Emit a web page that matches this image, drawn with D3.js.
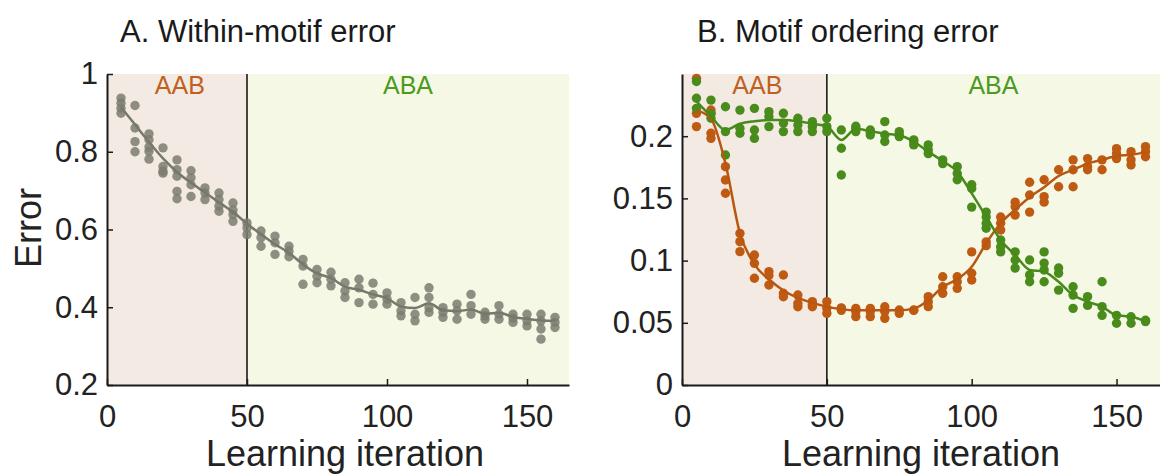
<!DOCTYPE html>
<html>
<head>
<meta charset="utf-8">
<script src="https://cdn.jsdelivr.net/npm/d3@7"></script>
<style>
  body { margin: 0; background: #fff; }
  svg { display: block; font-family: "Liberation Sans", Arial, sans-serif; }
</style>
</head>
<body>
<svg id="chart" width="1160" height="475"></svg>
<script>
// learning iterations where each batch of runs was measured
const iterations = [5, 10, 15, 20, 25, 30, 35, 40, 45, 50, 55, 60, 65, 70, 75, 80,
    85, 90, 95, 100, 105, 110, 115, 120, 125, 130, 135, 140, 145, 150, 155, 160];

// A. within-motif error, one list of runs per iteration
const withinPoints = [
    [0.938, 0.925, 0.912, 0.899], [0.919, 0.861, 0.826, 0.80], [0.846, 0.831, 0.812, 0.801, 0.781],
    [0.81, 0.762, 0.745, 0.75], [0.779, 0.754, 0.737, 0.698, 0.679], [0.751, 0.733, 0.715, 0.685],
    [0.707, 0.694, 0.677], [0.694, 0.677, 0.66, 0.647], [0.668, 0.638, 0.621, 0.65],
    [0.617, 0.604, 0.587], [0.596, 0.579, 0.557], [0.583, 0.566, 0.536],
    [0.557, 0.544, 0.53], [0.523, 0.506, 0.459], [0.497, 0.48, 0.463],
    [0.49, 0.472, 0.455], [0.463, 0.442, 0.425], [0.472, 0.45, 0.412],
    [0.462, 0.433, 0.408], [0.437, 0.421, 0.408], [0.412, 0.391, 0.378],
    [0.425, 0.382, 0.365], [0.45, 0.425, 0.399, 0.387], [0.399, 0.387, 0.374],
    [0.408, 0.391, 0.369], [0.433, 0.404, 0.382], [0.387, 0.369, 0.378],
    [0.404, 0.382, 0.369], [0.382, 0.361, 0.372], [0.382, 0.365, 0.352],
    [0.382, 0.365, 0.344, 0.318], [0.374, 0.361, 0.348]
];
const withinFit = [0.915, 0.87, 0.825, 0.783, 0.748, 0.72, 0.695, 0.67, 0.645, 0.615, 0.588,
    0.562, 0.54, 0.51, 0.487, 0.475, 0.453, 0.445, 0.433, 0.423, 0.402, 0.398, 0.41, 0.392,
    0.39, 0.394, 0.383, 0.386, 0.375, 0.37, 0.366, 0.365];

// B. motif ordering error, AAB (orange) and ABA (green)
const aabPoints = [
    [0.2465, 0.2184, 0.2077], [0.2211, 0.2184, 0.2024, 0.1983], [0.1755, 0.1648, 0.1541],
    [0.1219, 0.1152, 0.1072], [0.1045, 0.0978, 0.0858], [0.0911, 0.0804, 0.088],
    [0.0884, 0.0737, 0.071], [0.0723, 0.0656, 0.0629], [0.067, 0.0629, 0.065],
    [0.067, 0.0616, 0.0576], [0.0616, 0.062, 0.06], [0.0616, 0.059, 0.055],
    [0.0616, 0.059, 0.055], [0.0629, 0.059, 0.0536], [0.0603, 0.0576], [0.0603, 0.06],
    [0.071, 0.067, 0.063], [0.087, 0.079, 0.0737], [0.087, 0.083, 0.0777],
    [0.107, 0.0898, 0.0844], [0.115, 0.112], [0.135, 0.13, 0.1246],
    [0.147, 0.1433, 0.1366], [0.163, 0.1527, 0.139], [0.165, 0.1514, 0.147],
    [0.173, 0.1594], [0.181, 0.173, 0.1594], [0.182, 0.1755, 0.173], [0.181, 0.173],
    [0.19, 0.186, 0.182], [0.1876, 0.181, 0.1769], [0.1916, 0.1876, 0.1835]
];
const aabFit = [0.221, 0.214, 0.178, 0.122, 0.097, 0.085, 0.076, 0.07, 0.066, 0.063, 0.061,
    0.06, 0.06, 0.06, 0.06, 0.0616, 0.068, 0.079, 0.085, 0.095, 0.114, 0.13, 0.141, 0.151,
    0.159, 0.168, 0.173, 0.178, 0.181, 0.184, 0.185, 0.187];

const abaPoints = [
    [0.244, 0.2305, 0.2224], [0.229, 0.2144, 0.218], [0.2237, 0.2037, 0.1849],
    [0.221, 0.2064, 0.2024], [0.2224, 0.205, 0.1983], [0.2197, 0.2157, 0.2077],
    [0.2184, 0.2104, 0.2037], [0.2144, 0.209, 0.2037], [0.2117, 0.2077, 0.2037],
    [0.2144, 0.2077, 0.2037], [0.205, 0.1903, 0.1688], [0.2064, 0.2037, 0.208],
    [0.205, 0.201, 0.203], [0.2117, 0.201, 0.1957], [0.2037, 0.1997, 0.201],
    [0.197, 0.193, 0.1957], [0.193, 0.189, 0.186], [0.181, 0.178],
    [0.1755, 0.17, 0.165], [0.161, 0.158, 0.143], [0.139, 0.135, 0.13, 0.126],
    [0.1165, 0.111, 0.107], [0.107, 0.1005, 0.094], [0.1005, 0.0885, 0.083],
    [0.107, 0.098, 0.0925, 0.083], [0.094, 0.0898, 0.0763], [0.079, 0.0723, 0.0616],
    [0.071, 0.064], [0.083, 0.063, 0.056], [0.056, 0.0496], [0.0549, 0.0496], [0.051, 0.052]
];
const abaFit = [0.228, 0.216, 0.205, 0.21, 0.212, 0.213, 0.213, 0.212, 0.21, 0.208, 0.197,
    0.206, 0.204, 0.202, 0.2007, 0.1957, 0.1876, 0.18, 0.1715, 0.154, 0.1353, 0.1165,
    0.1045, 0.0925, 0.091, 0.083, 0.0723, 0.067, 0.063, 0.056, 0.055, 0.051];

const phases = [
    { name: 'AAB', start: 0, end: 50, fill: '#f4eae4', text: '#c0601e' },
    { name: 'ABA', start: 50, end: 165, fill: '#f6f8e6', text: '#4d9a22' }
];
const xTicks = [0, 50, 100, 150];
const withinTicks = [0.2, 0.4, 0.6, 0.8, 1];
const orderTicks = [0, 0.05, 0.1, 0.15, 0.2];

const svg = d3.select('#chart');

function drawPanel(opts) {
    const xScale = d3.scaleLinear().domain([0, 165]).range([opts.left, opts.right]);
    const yScale = d3.scaleLinear().domain(opts.yDomain).range([385, 74]);
    const g = svg.append('g');

    // phase shading
    g.selectAll('rect.phase')
        .data(phases)
        .enter()
        .append('rect')
        .attr('class', 'phase')
        .attr('x', d => xScale(d.start))
        .attr('width', d => xScale(d.end) - xScale(d.start))
        .attr('y', yScale.range()[1])
        .attr('height', yScale.range()[0] - yScale.range()[1])
        .attr('fill', d => d.fill);

    g.selectAll('text.phase')
        .data(phases)
        .enter()
        .append('text')
        .attr('class', 'phase')
        .attr('x', d => d.name === 'AAB' ? xScale(26) : xScale((d.start + d.end) / 2))
        .attr('y', 94)
        .attr('text-anchor', 'middle')
        .style('font-size', '25px')
        .attr('fill', d => d.text)
        .text(d => d.name);

    // boundary between phases
    g.append('line')
        .attr('x1', xScale(50)).attr('x2', xScale(50))
        .attr('y1', yScale.range()[1]).attr('y2', yScale.range()[0])
        .attr('stroke', '#1a1a1a')
        .attr('stroke-width', 1.6);

    const line = d3.line()
        .x((d, i) => xScale(iterations[i]))
        .y(d => yScale(d))
        .curve(d3.curveMonotoneX);

    opts.series.forEach(s => {
        const pts = [];
        s.points.forEach((vals, i) => vals.forEach(v => pts.push({ x: iterations[i], v: v })));
        g.append('g')
            .selectAll('circle')
            .data(pts)
            .enter()
            .append('circle')
            .attr('cx', d => xScale(d.x))
            .attr('cy', d => yScale(d.v))
            .attr('r', 4.7)
            .attr('fill', s.color)
            .attr('fill-opacity', s.opacity);
    });
    opts.series.forEach(s => {
        g.append('path')
            .datum(s.fit)
            .attr('d', line)
            .attr('fill', 'none')
            .attr('stroke', s.lineColor)
            .attr('stroke-width', 2.5);
    });

    // axes, MATLAB style with inward ticks
    const yAxis = d3.axisLeft(yScale)
        .tickValues(opts.yTicks)
        .tickFormat(d3.format(''))
        .tickSizeInner(-6)
        .tickSizeOuter(0)
        .tickPadding(9);
    const ya = g.append('g')
        .attr('transform', `translate(${opts.left},0)`)
        .call(yAxis);

    const xAxis = d3.axisBottom(xScale)
        .tickValues(xTicks)
        .tickSizeInner(-6)
        .tickSizeOuter(0)
        .tickPadding(20);
    const xa = g.append('g')
        .attr('transform', `translate(0,385)`)
        .call(xAxis);

    [ya, xa].forEach(a => {
        a.select('.domain').attr('stroke', '#1a1a1a').attr('stroke-width', 2);
        a.selectAll('.tick line').attr('stroke', '#1a1a1a').attr('stroke-width', 1.5);
        a.selectAll('.tick text')
            .style('font-size', '31px')
            .style('font-family', '"Liberation Sans", Arial, sans-serif')
            .attr('fill', '#222');
    });

    svg.append('text')
        .attr('x', opts.titleX)
        .attr('y', 42)
        .style('font-size', '31px')
        .attr('fill', '#1a1a1a')
        .text(opts.title);

    svg.append('text')
        .attr('x', opts.xLabelX)
        .attr('y', 466)
        .attr('text-anchor', 'middle')
        .style('font-size', '36px')
        .attr('fill', '#222')
        .text('Learning iteration');
}

drawPanel({
    left: 107, right: 569, yDomain: [0.2, 1], yTicks: withinTicks,
    title: 'A. Within-motif error', titleX: 120, xLabelX: 345,
    series: [{ points: withinPoints, fit: withinFit, color: '#7b7d70', opacity: 0.85, lineColor: '#76786b' }]
});

drawPanel({
    left: 682, right: 1160, yDomain: [0, 0.25], yTicks: orderTicks,
    title: 'B. Motif ordering error', titleX: 697, xLabelX: 921,
    series: [
        { points: aabPoints, fit: aabFit, color: '#bf5a12', opacity: 1, lineColor: '#b9560f' },
        { points: abaPoints, fit: abaFit, color: '#4a8c1c', opacity: 1, lineColor: '#468a19' }
    ]
});

svg.append('text')
    .attr('transform', 'translate(41,228) rotate(-90)')
    .attr('text-anchor', 'middle')
    .style('font-size', '36px')
    .attr('fill', '#222')
    .text('Error');
</script>
</body>
</html>
